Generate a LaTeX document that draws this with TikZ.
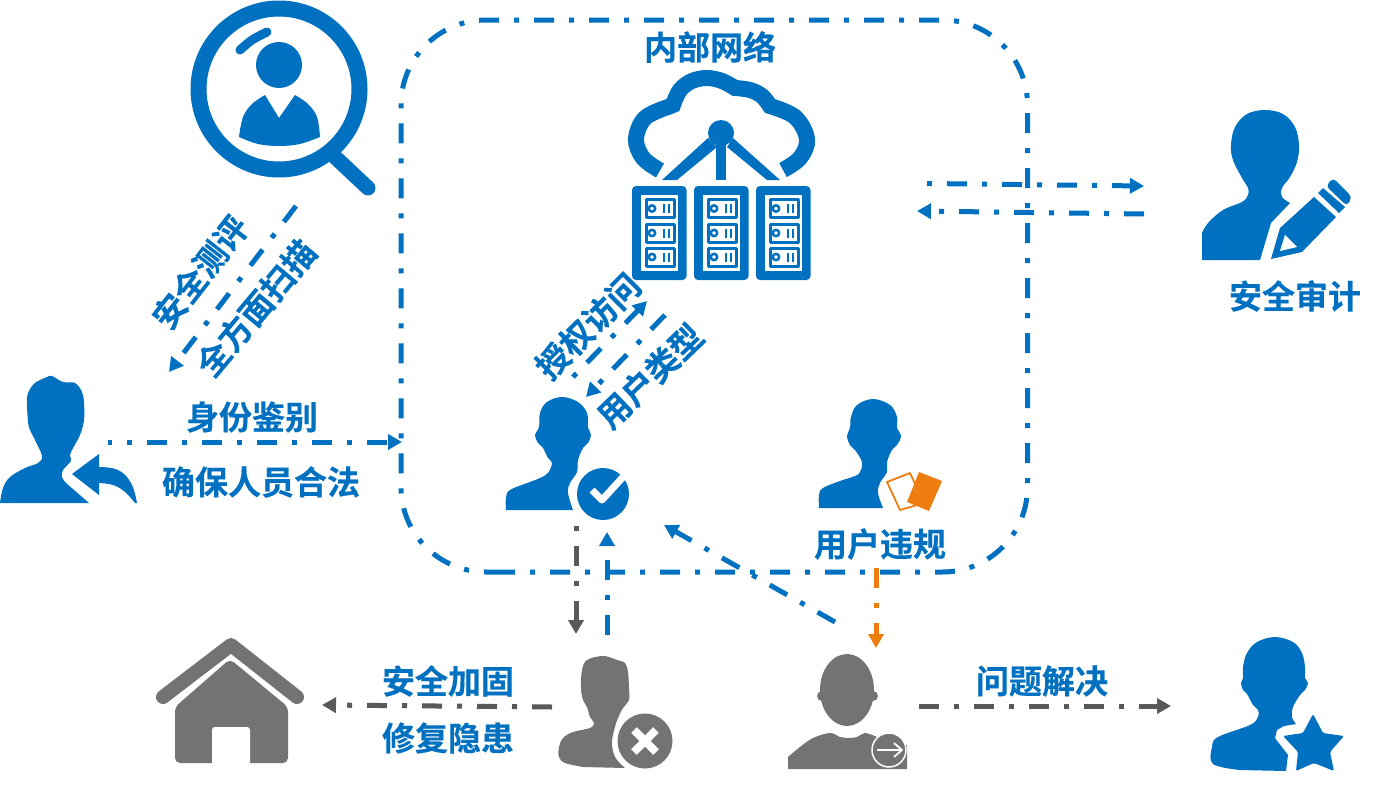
\documentclass[tikz,border=0pt]{standalone}
\usepackage{fontspec}
\newfontfamily\cjk[FakeBold=0.35]{Noto Sans CJK SC Bold}
\usetikzlibrary{arrows.meta,calc}
\definecolor{netblue}{RGB}{0,112,192}
\definecolor{netgray}{RGB}{115,115,115}
\definecolor{netdark}{RGB}{89,89,89}
\definecolor{netorange}{RGB}{237,125,15}
\tikzset{
 flow/.style={line width=5pt,dash pattern=on 20pt off 15pt on 5pt off 15pt},
 flowtip/.style={-{Triangle[length=14pt,width=15pt]}},
 lab/.style={font=\cjk\fontsize{33}{34}\selectfont,text=netblue,inner sep=0pt},
}
\begin{document}
\begin{tikzpicture}[x=1pt,y=-1pt,line cap=butt,line join=round]
\useasboundingbox (0,0) rectangle (1382,795);
% free ends of the connectors, in pixels of the picture
\coordinate (idA) at (108,442);
\coordinate (idB) at (402,442);
\coordinate (scanA) at (296,206);
\coordinate (scanB) at (169,372);
\coordinate (authA) at (573,377);
\coordinate (authB) at (647,301);
\coordinate (typeA) at (665,315);
\coordinate (typeB) at (586,397);
\coordinate (auditA) at (927,183.5);
\coordinate (auditB) at (1144,186);
\coordinate (backA) at (1144,214);
\coordinate (backB) at (917,211);
\coordinate (okA) at (576,526);
\coordinate (okB) at (576,634);
\coordinate (failA) at (607,635);
\coordinate (failB) at (607,532);
\coordinate (retA) at (835,622);
\coordinate (retB) at (664,525);
\coordinate (badA) at (876,568);
\coordinate (badB) at (876,648);
\coordinate (fixA) at (552,707);
\coordinate (fixB) at (322,705);
\coordinate (doneA) at (919,706);
\coordinate (doneB) at (1171,706);
% inner network frame
\draw[flow,netblue,rounded corners=85pt] (495,572)--(1027.5,572)--(1027.5,20)--(401,20)--(401,572)--(495,572);
% magnifier
\draw[netblue,line width=16pt] (279,89) circle (80.5);
\draw[netblue,line width=15pt,line cap=round] (335,157)--(368,188);
\draw[netblue,line width=9pt,line cap=round] plot[smooth] coordinates{(240,50)(252,40)(267,32)};
\fill[netblue] (279,65) circle (23);
\fill[netblue] (239,137)--plot[smooth,tension=.6] coordinates{(239,137)(243,117)(252,104)(265,95)}
 --(279,118)--plot[smooth,tension=.6] coordinates{(295,95)(308,104)(317,117)(320,137)}
 --plot[smooth,tension=.6] coordinates{(320,137)(300,144)(279,146)(258,144)(239,137)}--cycle;
% cloud and hub
\draw[netblue,line width=16pt,line join=miter]
 plot[smooth,tension=.6] coordinates{(660,170.5)(643,158)(636,139)(645,118)(668,107)}
 --plot[smooth,tension=.6] coordinates{(673,105)(680,90)(692,81)(707,78)(722,81)(735,88)}
 --plot[smooth,tension=.6] coordinates{(735,88)(750,90)(762,96)(770,106)}
 --plot[smooth,tension=.6] coordinates{(770,106)(795,117)(807,139)(800,158)(783,170)};
\fill[netblue] (721,133) circle (13);
\fill[netblue] (708,138)--(662,180)--(677,180)--(717,147)--cycle;
\fill[netblue] (716,145) rectangle (726,180);
\fill[netblue] (733,138)--(780,180)--(767,180)--(727,147)--cycle;
% server racks
\foreach \rx in {632,694,756}{
 \fill[netblue,rounded corners=4pt] (\rx,186) rectangle ({\rx+54.5},280);
 \fill[white] ({\rx+8.5},195) rectangle ({\rx+46},271);
 \foreach \uy in {199.5,224,248}{
  \draw[netblue,line width=3pt] ({\rx+14},\uy) rectangle ({\rx+42},{\uy+18});
  \draw[netblue,line width=2.5pt] ({\rx+20},{\uy+9}) circle (3.2);
  \fill[netblue] ({\rx+30.5},{\uy+4.5}) rectangle ({\rx+33.2},{\uy+13.5});
  \fill[netblue] ({\rx+35.5},{\uy+4.5}) rectangle ({\rx+38.2},{\uy+13.5});
 }
}
% person with return arrow
\fill[netblue] (89,503)--(0,503)--plot[smooth,tension=.6] coordinates{(0,503)(3,488)(10,477)(25,468)(38,463)(42,456)(35,440)(30,430)(28,422)(27,403)(28,393)(35,383)(47,377)(52,376)(63,382)(75,383)(82,392)(84,403)(84,420)(80,435)(72,450)(70,456)(71,461)(63,470)(62,477)(66,483)}--cycle;
\fill[netblue] (72,474)--(99,454)--(99,467)--plot[smooth,tension=.7] coordinates{(99,467)(118,470)(131,483)(137,503)}--(135,503)--plot[smooth,tension=.7] coordinates{(135,503)(125,492)(113,485)(99,483)}--(99,495)--cycle;
% person with check mark
\fill[netblue] (573,510)--(506,510)--plot[smooth,tension=.6] coordinates{(506,510)(506,498)(510,490)(530,482)(540,478)(548,473)(552,463)(548,458)(543,448)(538,443)(535,435)(539,427)(540,413)(547,402)(562,397)(578,402)(587,413)(588,427)(591,435)(588,443)(583,448)(578,460)(577,472)(570,483)(568,493)(573,510)}--cycle;
\fill[netblue] (603,494) circle (26);
\draw[white,line width=7pt] (592,490)--(602,500)--(623,477);
% person with cards
\fill[netblue] (883,508)--(819,508)--plot[smooth,tension=.6] coordinates{(819,508)(819,495)(823,488)(840,481)(855,476)(860,472)(862,462)(855,450)(850,445)(847,436)(850,428)(851,417)(857,405)(873,399)(890,405)(897,417)(897,428)(901,436)(897,445)(892,450)(887,462)(887,472)(880,483)(878,493)(883,508)}--cycle;
\draw[netorange,line width=1.8pt] (887,482)--(910,473)--(924,503)--(900,510)--cycle;
\fill[netorange] (919,472)--(942,481)--(929,511)--(907,502)--cycle;
% person with cross
\fill[netgray] (625,768)--(583,767)--plot[smooth,tension=.6] coordinates{(583,767)(565,763)(559,757)(559,747)(563,738)(573,732)(590,728)(594,723)(590,717)(587,707)(583,700)(581,688)(582,670)(587,660)(602,656)(612,658)(617,660)(625,663)(628,672)(629,688)(629,700)(623,708)(618,718)(615,727)(612,742)(615,757)(625,768)}--cycle;
\fill[netgray] (645,741) circle (27.5);
\draw[white,line width=8pt] (634,730)--(656,752);
\draw[white,line width=8pt] (656,730)--(634,752);
% person leaving
\fill[netgray] (847,690) ellipse (27 and 36);
\fill[netgray] (822,696) circle (5);
\fill[netgray] (873,696) circle (5);
\fill[netgray] (907,769)--(788,769)--(788,757)--plot[smooth,tension=.6] coordinates{(788,757)(800,747)(813,738)(830,733)(840,737)(847,738)(857,737)(865,733)(877,737)}--(907,745)--cycle;
\draw[white,fill=netgray,line width=1.5pt] (889,750) circle (17);
\draw[white,line width=1.8pt] (877,750)--(901,750);
\draw[white,line width=1.8pt] (894,743)--(902,750)--(894,757);
% auditor with pencil
\fill[netblue] (1260,260)--(1202,260)--(1202,233)--plot[smooth,tension=.6] coordinates{(1202,233)(1208,223)(1223,210)(1242,202)(1248,195)(1248,188)(1242,178)(1233,160)(1231,145)(1235,127)(1247,114)(1265,110)(1283,114)(1295,127)(1299,145)(1297,162)(1290,177)(1282,188)(1282,197)(1290,203)}--(1271,223)--cycle;
\fill[netblue] (1271,259)--(1280,228)--(1314,197)--(1336,217)--(1302,252)--cycle;
\fill[white] (1285,235)--(1280,251)--(1297,247)--cycle;
\fill[netblue] (1318,193)--(1323,188)--(1345,207)--(1339,213)--cycle;
\fill[netblue,rounded corners=4pt] (1326,186)--(1333,178)--(1352,197)--(1347,206)--cycle;
% person with star
\fill[netblue] (1286,771)--(1240,770)--plot[smooth,tension=.6] coordinates{(1240,770)(1213,764)(1212,747)(1218,737)(1250,725)(1258,717)(1258,710)(1253,705)(1247,694)(1243,690)(1241,683)(1243,678)(1243,667)(1247,653)(1257,642)(1275,637)(1293,642)(1302,653)(1305,667)(1305,678)(1308,683)(1305,690)(1300,695)(1293,707)(1292,717)(1296,724)}--(1284,726)--(1277,730)--(1275,738)--(1288,755)--cycle;
\fill[netblue,rounded corners=1.5pt] (1313,714)--(1323,733)--(1344,736)--(1330,752)--(1334,771)--(1314,763)--(1296,771)--(1298,752)--(1283,736)--(1303,733)--cycle;
% house
\draw[netgray,line width=14pt,line cap=round] (163,697)--(231,645)--(297,697);
\fill[netgray,rounded corners=5pt] (230,659)--(175,707)--(175,763)--(288,763)--(288,707)--cycle;
\fill[white,rounded corners=3pt] (212,775)--(212,727)--(250,727)--(250,775)--cycle;
% connectors
\draw[flow,flowtip,netblue,dash phase=16pt] (idA)--(idB);
\draw[flow,flowtip,netblue] (scanA)--(scanB);
\draw[flow,flowtip,netblue,dash phase=35pt] (authA)--(authB);
\draw[flow,flowtip,netblue] (typeA)--(typeB);
\draw[flow,flowtip,netblue,dash phase=35pt] (auditA)--(auditB);
\draw[flow,flowtip,netblue] (backA)--(backB);
\draw[flow,flowtip,netdark,dash phase=35pt] (okA)--(okB);
\draw[flow,flowtip,netblue] (failA)--(failB);
\draw[flow,flowtip,netblue] (retA)--(retB);
\draw[flow,flowtip,netorange] (badA)--(badB);
\draw[flow,flowtip,netdark] (fixA)--(fixB);
\draw[flow,flowtip,netdark] (doneA)--(doneB);
% labels
\node[lab] (netlab) at (710,47) {内部网络};
\node[lab] (auditlab) at (1295,296) {安全审计};
\node[lab] (idlab) at (252,417) {身份鉴别};
\node[lab] (legallab) at (261,482) {确保人员合法};
\node[lab] (badlab) at (880,544) {用户违规};
\node[lab] (fixlab) at (448,681) {安全加固};
\node[lab] (holelab) at (448,738) {修复隐患};
\node[lab] (donelab) at (1042,681) {问题解决};
\node[lab,rotate=52] (evallab) at (200,272) {安全测评};
\node[lab,rotate=50] (scanlab) at (256,308) {全方面扫描};
\node[lab,rotate=45] (authlab) at (588,326) {授权访问};
\node[lab,rotate=44] (typelab) at (650,376) {用户类型};
\end{tikzpicture}
\end{document}
